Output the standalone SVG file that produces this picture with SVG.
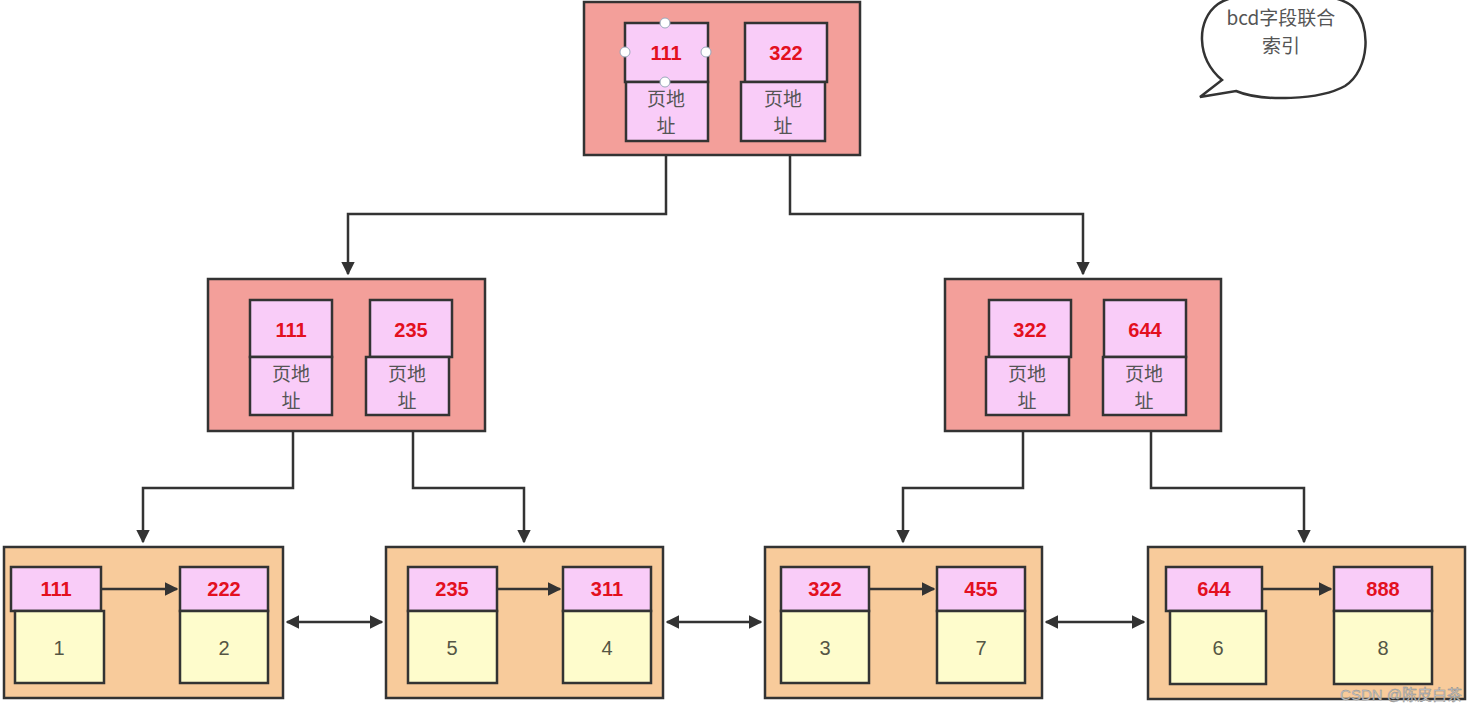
<svg xmlns="http://www.w3.org/2000/svg" width="1477" height="714" viewBox="0 0 1477 714">
<style>
.bg{fill:#ffffff}
.inner{fill:#f39f9a;stroke:#333333;stroke-width:2.5}
.leaf{fill:#f8cb9b;stroke:#333333;stroke-width:2.5}
.key{fill:#f9ccf8;stroke:#333333;stroke-width:2.5}
.val{fill:#fefccc;stroke:#333333;stroke-width:2.5}
.num{font-family:"Liberation Sans","Noto Sans CJK SC",sans-serif;font-size:20px;font-weight:bold;fill:#e3101f;text-anchor:middle}
.addr{font-family:"Noto Sans CJK SC","Liberation Sans",sans-serif;font-size:19px;fill:#555555;text-anchor:middle}
.v{font-family:"Liberation Sans","Noto Sans CJK SC",sans-serif;font-size:20px;fill:#555544;text-anchor:middle}
.con{fill:none;stroke:#333333;stroke-width:2.5}
.handle{fill:#ffffff;stroke:#9aa8bb;stroke-width:1}
</style>
<defs>
<marker id="ah" viewBox="0 0 10 10" refX="9" refY="5" markerWidth="5.5" markerHeight="5.5" orient="auto-start-reverse" markerUnits="strokeWidth">
<path d="M0,0 L10,5 L0,10 Z" fill="#333333"/>
</marker>
</defs>
<rect class="bg" x="0" y="0" width="1477" height="714"/>

<g id="connectors">
<path class="con" d="M666,155 V214 H348 V274" marker-end="url(#ah)"/>
<path class="con" d="M790,155 V214 H1083 V274" marker-end="url(#ah)"/>
<path class="con" d="M293,431 V488 H143 V542" marker-end="url(#ah)"/>
<path class="con" d="M413,431 V488 H524 V542" marker-end="url(#ah)"/>
<path class="con" d="M1023,431 V488 H903 V542" marker-end="url(#ah)"/>
<path class="con" d="M1151,431 V488 H1304 V542" marker-end="url(#ah)"/>
<path class="con" d="M287,622 H382" marker-start="url(#ah)" marker-end="url(#ah)"/>
<path class="con" d="M667,622 H761" marker-start="url(#ah)" marker-end="url(#ah)"/>
<path class="con" d="M1046,622 H1144" marker-start="url(#ah)" marker-end="url(#ah)"/>
</g>

<g id="root">
<rect class="inner" x="584" y="2" width="276" height="153"/>
<rect class="key" x="625" y="23" width="83" height="59"/>
<text class="num" x="666" y="60">111</text>
<rect class="key" x="626" y="82" width="82" height="59"/>
<text class="addr" x="666" y="106">页地</text>
<text class="addr" x="666" y="133">址</text>
<rect class="key" x="745" y="23" width="82" height="59"/>
<text class="num" x="786" y="60">322</text>
<rect class="key" x="741" y="82" width="84" height="59"/>
<text class="addr" x="783" y="106">页地</text>
<text class="addr" x="783" y="133">址</text>
<circle class="handle" cx="665" cy="23" r="5"/>
<circle class="handle" cx="625" cy="52" r="5"/>
<circle class="handle" cx="706" cy="52" r="5"/>
<circle class="handle" cx="665" cy="82" r="5"/>
</g>

<g id="mid-left">
<rect class="inner" x="208" y="279" width="277" height="152"/>
<rect class="key" x="250" y="300" width="82" height="57"/>
<text class="num" x="291" y="337">111</text>
<rect class="key" x="250" y="357" width="82" height="58"/>
<text class="addr" x="291" y="381">页地</text>
<text class="addr" x="291" y="408">址</text>
<rect class="key" x="370" y="300" width="82" height="57"/>
<text class="num" x="411" y="337">235</text>
<rect class="key" x="366" y="357" width="83" height="58"/>
<text class="addr" x="407" y="381">页地</text>
<text class="addr" x="407" y="408">址</text>
</g>

<g id="mid-right">
<rect class="inner" x="945" y="279" width="276" height="152"/>
<rect class="key" x="989" y="300" width="82" height="57"/>
<text class="num" x="1030" y="337">322</text>
<rect class="key" x="986" y="357" width="83" height="58"/>
<text class="addr" x="1027" y="381">页地</text>
<text class="addr" x="1027" y="408">址</text>
<rect class="key" x="1104" y="300" width="82" height="57"/>
<text class="num" x="1145" y="337">644</text>
<rect class="key" x="1103" y="357" width="83" height="58"/>
<text class="addr" x="1144" y="381">页地</text>
<text class="addr" x="1144" y="408">址</text>
</g>

<g id="leaf-1">
<rect class="leaf" x="4" y="547" width="279" height="151"/>
<rect class="key" x="11" y="567" width="90" height="44"/>
<text class="num" x="56" y="596">111</text>
<rect class="val" x="15" y="611" width="89" height="72"/>
<text class="v" x="59" y="655">1</text>
<rect class="key" x="180" y="567" width="88" height="44"/>
<text class="num" x="224" y="596">222</text>
<rect class="val" x="180" y="611" width="88" height="72"/>
<text class="v" x="224" y="655">2</text>
<path class="con" d="M101,589 H177" marker-end="url(#ah)"/>
</g>

<g id="leaf-2">
<rect class="leaf" x="386" y="547" width="277" height="151"/>
<rect class="key" x="408" y="567" width="89" height="44"/>
<text class="num" x="452" y="596">235</text>
<rect class="val" x="408" y="611" width="89" height="72"/>
<text class="v" x="452" y="655">5</text>
<rect class="key" x="563" y="567" width="88" height="44"/>
<text class="num" x="607" y="596">311</text>
<rect class="val" x="563" y="611" width="88" height="72"/>
<text class="v" x="607" y="655">4</text>
<path class="con" d="M497,589 H560" marker-end="url(#ah)"/>
</g>

<g id="leaf-3">
<rect class="leaf" x="765" y="547" width="277" height="151"/>
<rect class="key" x="781" y="567" width="88" height="44"/>
<text class="num" x="825" y="596">322</text>
<rect class="val" x="781" y="611" width="88" height="72"/>
<text class="v" x="825" y="655">3</text>
<rect class="key" x="937" y="567" width="88" height="44"/>
<text class="num" x="981" y="596">455</text>
<rect class="val" x="937" y="611" width="88" height="72"/>
<text class="v" x="981" y="655">7</text>
<path class="con" d="M869,589 H934" marker-end="url(#ah)"/>
</g>

<g id="leaf-4">
<rect class="leaf" x="1148" y="547" width="317" height="152"/>
<rect class="key" x="1166" y="567" width="96" height="44"/>
<text class="num" x="1214" y="596">644</text>
<rect class="val" x="1170" y="611" width="96" height="73"/>
<text class="v" x="1218" y="655">6</text>
<rect class="key" x="1334" y="567" width="98" height="44"/>
<text class="num" x="1383" y="596">888</text>
<rect class="val" x="1334" y="611" width="98" height="73"/>
<text class="v" x="1383" y="655">8</text>
<path class="con" d="M1262,589 H1331" marker-end="url(#ah)"/>
</g>

<g id="callout">
<path d="M1222,80 C1196,58 1196,20 1218,4 C1240,-12 1330,-12 1352,6 C1372,24 1370,70 1345,86 C1320,100 1262,102 1236,91 L1200,97 Z" fill="#ffffff" stroke="#333333" stroke-width="2.5"/>
<text class="addr" x="1281" y="25" font-size="18" fill="#6a6a6a">bcd字段联合</text>
<text class="addr" x="1281" y="53" font-size="18" fill="#6a6a6a">索引</text>
</g>

<text x="1462" y="700" font-family="Liberation Sans,Noto Sans CJK SC,sans-serif" font-size="15" fill="#c8c8c8" stroke="#8a8a8a" stroke-width="0.4" text-anchor="end">CSDN @陈皮白茶</text>
</svg>
